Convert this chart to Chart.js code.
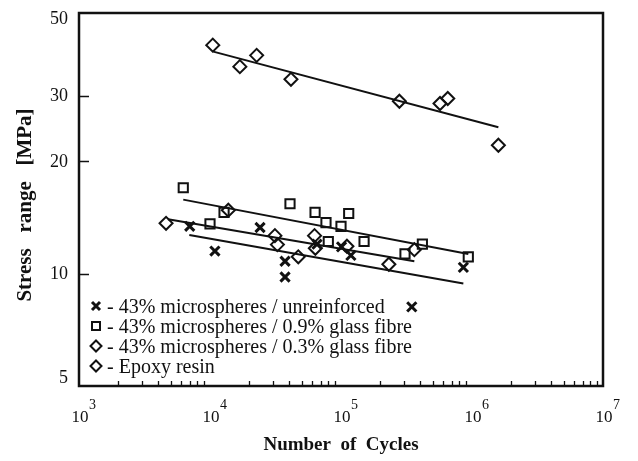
<!DOCTYPE html>
<html>
<head>
<meta charset="utf-8">
<script src="https://cdn.jsdelivr.net/npm/chart.js"></script>
<style>
    html, body { margin: 0; padding: 0; background: #fff; }
</style>
</head>
<body>
<canvas id="myChart" width="638" height="461"></canvas>
<script>
    // number of cycles / stress range [MPa]
    var unreinfN = [7000, 10900, 24100, 37400, 37400, 65600, 101000, 119000, 859000, 347000];
    var unreinfS = [13.4, 11.5, 13.3, 10.8, 9.8, 12.0, 11.8, 11.2, 10.4, 8.15];

    var glass09N = [6250, 12800, 10000, 40800, 63400, 76800, 100000, 114500, 80000, 150000, 308000, 418000, 937000];
    var glass09S = [17.0, 14.6, 13.6, 15.4, 14.6, 13.7, 13.4, 14.5, 12.2, 12.2, 11.3, 12.0, 11.1];

    var glass03N = [4620, 13800, 31300, 32700, 47200, 62800, 63700, 111000, 232000, 363000];
    var glass03S = [13.65, 14.8, 12.65, 11.97, 11.1, 12.65, 11.7, 11.85, 10.6, 11.6];

    var epoxyN = [10500, 16900, 22700, 41500, 279000, 570000, 653000, 1590000];
    var epoxyS = [41.0, 35.9, 38.5, 33.2, 29.0, 28.6, 29.5, 22.1];

    // end points of the fitted lines
    var fitEpoxyN = [10600, 1590000],  fitEpoxyS = [39.4, 24.7];
    var fitG09N = [6250, 937000],      fitG09S = [15.8, 11.3];
    var fitG03N = [4780, 363000],      fitG03S = [14.0, 10.8];
    var fitUnrN = [6950, 859000],      fitUnrS = [12.7, 9.42];

    var xExponents = [3, 4, 5, 6, 7];
    var yTickVals = [5, 10, 20, 30, 50];
    var legendLabels = [
        '- 43% microspheres / unreinforced',
        '- 43% microspheres / 0.9% glass fibre',
        '- 43% microspheres / 0.3% glass fibre',
        '- Epoxy resin'
    ];

    var INK = '#111';

    function pts(xs, ys) {
        return xs.map(function (x, i) { return { x: x, y: ys[i] }; });
    }

    function markers(data, style, radius, width) {
        return {
            data: data, showLine: false, pointStyle: style, pointRadius: radius,
            pointBorderWidth: width, borderColor: INK, backgroundColor: 'rgba(0,0,0,0)'
        };
    }

    function fit(data) {
        return { data: data, showLine: true, pointRadius: 0, borderWidth: 2, borderColor: INK, fill: false };
    }

    // little helper to draw the legend symbols
    function symbol(ctx, kind, x, y) {
        ctx.beginPath();
        if (kind === 0) {
            ctx.lineWidth = 3;
            ctx.moveTo(x - 4, y - 4); ctx.lineTo(x + 4, y + 4);
            ctx.moveTo(x + 4, y - 4); ctx.lineTo(x - 4, y + 4);
        } else if (kind === 1) {
            ctx.lineWidth = 2;
            ctx.rect(x - 4, y - 4, 8, 8);
        } else {
            ctx.lineWidth = 2;
            ctx.moveTo(x, y - 5.5); ctx.lineTo(x + 5.5, y); ctx.lineTo(x, y + 5.5); ctx.lineTo(x - 5.5, y); ctx.closePath();
        }
        ctx.stroke();
    }

    var decor = {
        id: 'decor',
        afterDraw: function (chart) {
            var ctx = chart.ctx, a = chart.chartArea;
            var xs = chart.scales.x, ys = chart.scales.y;
            ctx.save();
            ctx.strokeStyle = INK;
            ctx.fillStyle = INK;

            // frame
            ctx.lineWidth = 2.5;
            ctx.strokeRect(a.left, a.top, a.right - a.left, a.bottom - a.top);

            // minor ticks on x, pointing inwards
            ctx.lineWidth = 1.3;
            ctx.beginPath();
            xExponents.forEach(function (e) {
                for (var m = 2; m <= 9; m++) {
                    var v = m * Math.pow(10, e);
                    if (v >= xs.max) continue;
                    var px = Math.round(xs.getPixelForValue(v)) + 0.5;
                    ctx.moveTo(px, a.bottom);
                    ctx.lineTo(px, a.bottom - 5);
                }
            });
            yTickVals.forEach(function (v) {
                if (v <= ys.min || v >= ys.max) return;
                var py = Math.round(ys.getPixelForValue(v)) + 0.5;
                ctx.moveTo(a.left, py);
                ctx.lineTo(a.left + 10, py);
            });
            ctx.stroke();

            // y labels
            ctx.font = '18px "Liberation Serif"';
            ctx.textAlign = 'right';
            ctx.textBaseline = 'middle';
            yTickVals.forEach(function (v) {
                var py = ys.getPixelForValue(v);
                if (v === ys.min) py -= 9;
                if (v === ys.max) py += 5;
                ctx.fillText(String(v), a.left - 11, py + 1);
            });

            // x labels, 10 with a raised exponent
            xExponents.forEach(function (e) {
                var px = xs.getPixelForValue(Math.pow(10, e));
                ctx.font = '17px "Liberation Serif"';
                ctx.textAlign = 'center';
                ctx.textBaseline = 'alphabetic';
                ctx.fillText('10', px + 1, a.bottom + 36);
                ctx.font = '14px "Liberation Serif"';
                ctx.textAlign = 'left';
                ctx.fillText(String(e), px + 10, a.bottom + 23);
            });

            // axis titles
            ctx.font = 'bold 19px "Liberation Serif"';
            ctx.textAlign = 'center';
            ctx.textBaseline = 'middle';
            ctx.fillText('Number  of  Cycles', (a.left + a.right) / 2, 445);
            ctx.save();
            ctx.translate(26, 205);
            ctx.rotate(-Math.PI / 2);
            ctx.font = 'bold 21px "Liberation Serif"';
            ctx.fillText('Stress   range   [MPa]', 0, 0);
            ctx.restore();

            // legend inside the plot
            ctx.font = '20px "Liberation Serif"';
            ctx.textAlign = 'left';
            legendLabels.forEach(function (t, i) {
                var y = 306 + i * 20;
                symbol(ctx, Math.min(i, 2), 96, y);
                ctx.fillText(t, 107, y + 2);
            });
            ctx.restore();
        }
    };

    var ctx = document.getElementById('myChart').getContext('2d');
    window.myChart = new Chart(ctx, {
        type: 'scatter',
        data: {
            datasets: [
                markers(pts(unreinfN, unreinfS), 'crossRot', 6.5, 3),
                markers(pts(glass09N, glass09S), 'rect', 6.5, 2),
                markers(pts(glass03N, glass03S), 'rectRot', 6.5, 2),
                markers(pts(epoxyN, epoxyS), 'rectRot', 6.5, 2),
                fit(pts(fitEpoxyN, fitEpoxyS)),
                fit(pts(fitG09N, fitG09S)),
                fit(pts(fitG03N, fitG03S)),
                fit(pts(fitUnrN, fitUnrS))
            ]
        },
        options: {
            responsive: false,
            animation: false,
            layout: { padding: { top: 13, right: 35, left: 0, bottom: 0 } },
            plugins: { legend: { display: false }, tooltip: { enabled: false } },
            scales: {
                x: {
                    type: 'logarithmic', min: 1000, max: 10000000,
                    ticks: { display: false }, grid: { display: false }, border: { display: false },
                    afterFit: function (s) { s.height = 75; }
                },
                y: {
                    type: 'logarithmic', min: 5, max: 50,
                    ticks: { display: false }, grid: { display: false }, border: { display: false },
                    afterFit: function (s) { s.width = 79; }
                }
            }
        },
        plugins: [decor]
    });
</script>
</body>
</html>
